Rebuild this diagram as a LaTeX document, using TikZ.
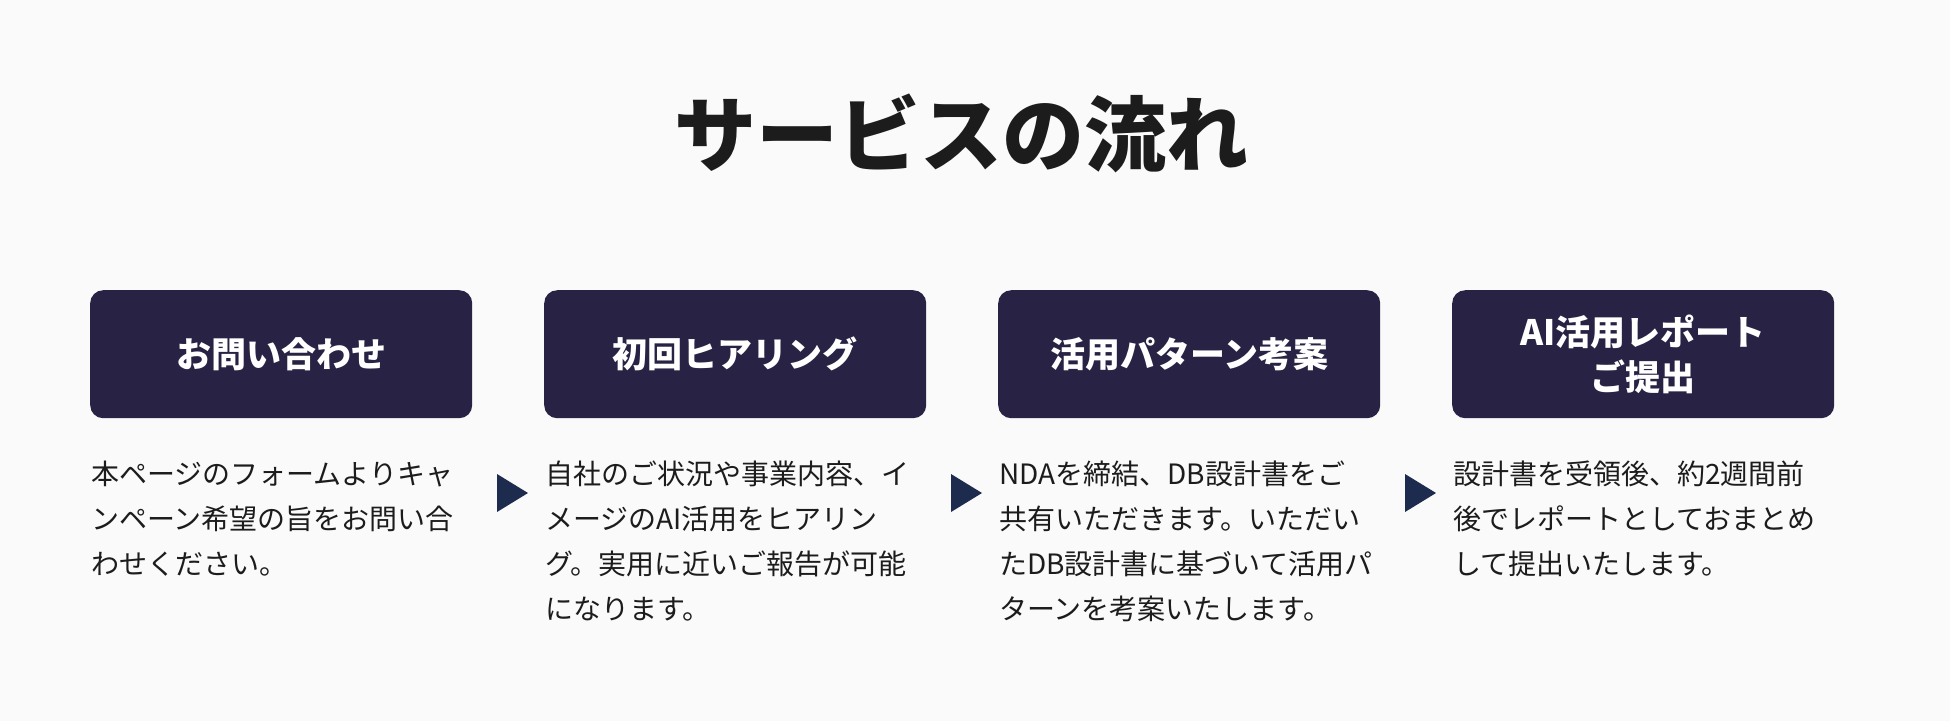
\documentclass[tikz,border=0pt]{standalone}
\usepackage{fontspec}
\setmainfont{Noto Sans CJK JP}
\usetikzlibrary{positioning}
\definecolor{boxnavy}{HTML}{282244}
\definecolor{arrownavy}{HTML}{1D2B4E}
\definecolor{pagebg}{HTML}{FAFAFA}
\definecolor{inktext}{HTML}{1C1C1C}

\begin{document}
\begin{tikzpicture}[x=1pt,y=-1pt,
  stepbox/.style={fill=boxnavy,rounded corners=13pt,minimum width=382pt,minimum height=128pt,
    inner sep=0pt,text=white,align=center,anchor=north west,
    font=\fontsize{35}{45}\selectfont\bfseries},
  desc/.style={anchor=north west,inner sep=0pt,align=left,text=inktext,
    font=\fontsize{28}{45}\selectfont},
  tri/.style={fill=arrownavy}]
  \fill[pagebg] (0,0) rectangle (1950,721);
  \useasboundingbox (0,0) rectangle (1950,721);

  \node[font=\fontsize{82}{90}\selectfont\bfseries,text=inktext] (title) at (961,133) {サービスの流れ};

  % steps
  \node[stepbox] (s1) at (90,290) {お問い合わせ};
  \node[stepbox] (s2) at (544,290) {初回ヒアリング};
  \node[stepbox] (s3) at (998,290) {活用パターン考案};
  \node[stepbox] (s4) at (1452,290) {AI活用レポート\\ご提出};

  % descriptions
  \node[desc] (d1) at (91,461) {本ページのフォームよりキャ\\ンペーン希望の旨をお問い合\\わせください。};
  \node[desc] (d2) at (545,461) {自社のご状況や事業内容、イ\\メージのAI活用をヒアリン\\グ。実用に近いご報告が可能\\になります。};
  \node[desc] (d3) at (999,461) {NDAを締結、DB設計書をご\\共有いただきます。いただい\\たDB設計書に基づいて活用パ\\ターンを考案いたします。};
  \node[desc] (d4) at (1453,461) {設計書を受領後、約2週間前\\後でレポートとしておまとめ\\して提出いたします。};

  % arrows between steps
  \fill[tri] (497,474) -- (528,493) -- (497,512) -- cycle;
  \fill[tri] (951,474) -- (982,493) -- (951,512) -- cycle;
  \fill[tri] (1405,474) -- (1436,493) -- (1405,512) -- cycle;
\end{tikzpicture}
\end{document}
